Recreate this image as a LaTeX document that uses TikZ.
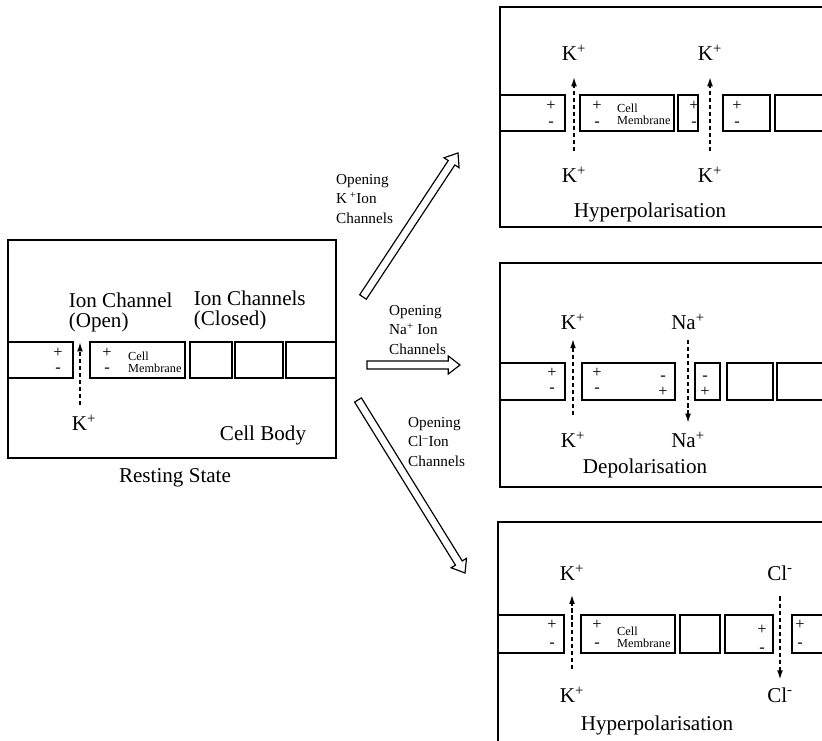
\documentclass[tikz,border=0pt]{standalone}
\usepackage{fontspec}
\setmainfont{Liberation Serif}
\usetikzlibrary{positioning,arrows.meta,calc}

% hollow block arrow between two named points
\newcommand{\hollowarrow}[2]{%
  \draw[bigarrow] let \p1=($(#2)-(#1)$), \n1={atan2(\y1,\x1)}, \n2={veclen(\x1,\y1)} in
    [shift={(#1)}, rotate=\n1]
    (0pt,-3.4pt) -- ({\n2-10pt},-3.4pt) -- ({\n2-10pt},-7.7pt) -- ({\n2+0pt},0pt)
    -- ({\n2-10pt},7.7pt) -- ({\n2-10pt},3.4pt) -- (0pt,3.4pt) -- cycle;}

\begin{document}
\begin{tikzpicture}[x=0.03cm, y=-0.03cm,
    panel/.style={draw, line width=1.4pt},
    seg/.style={draw, line width=1.3pt},
    lab/.style={font=\fontsize{18}{17}\selectfont, inner sep=0.5pt},
    ion/.style={font=\fontsize{18}{17}\selectfont, inner sep=0.5pt},
    chg/.style={font=\fontsize{14}{14}\selectfont, inner sep=0pt,
                text height=7pt, text depth=0pt},
    memb/.style={font=\fontsize{10.5}{10.5}\selectfont, align=left, anchor=west, inner sep=0pt},
    via/.style={font=\fontsize{13}{16.5}\selectfont, align=left, anchor=west, inner sep=0pt},
    ionflow/.style={line width=1.4pt, dash pattern=on 3.5pt off 2.5pt,
                    -{Latex[length=8pt,width=5pt]}},
    bigarrow/.style={draw, line width=1pt, fill=white}
]
    \useasboundingbox (0,0) rectangle (822,741);

    % resting state panel
    \draw[panel] (8,240) rectangle (336,458);
    \foreach \a/\b in {8/73, 90/185, 190/232, 235/283, 286/336}
        \draw[seg] (\a,342) rectangle (\b,378);
    \foreach \x/\y/\s [count=\i] in {58/353/+, 58/368/-, 107/353/+, 107/368/-}
        \node[chg] (rc\i) at (\x,\y) {\s};
    \node[memb] (restMem) at (128,362) {Cell\\Membrane};
    \node[lab, align=left, anchor=west] (openLab) at (68,312) {Ion Channel\\(Open)};
    \node[lab, align=left, anchor=west] (closedLab) at (193,310) {Ion Channels\\(Closed)};
    \node[ion] (restK) at (84,423) {K\textsuperscript{+}};
    \coordinate (restTip) at (80,342);
    \node[lab] (body) at (263,435) {Cell Body};
    \node[lab] (rest) at (175,478) {Resting State};
    \draw[ionflow, shorten <=8pt] (restK.north -| restTip) -- (restTip);

    % potassium: hyperpolarisation
    \draw[panel] (822,7) -| (500,227) -- (822,227);
    \foreach \a/\b in {500/565, 580/674, 678/698, 723/770}
        \draw[seg] (\a,95) rectangle (\b,131);
    \draw[seg] (822,95) -| (775,131) -- (822,131);
    \foreach \x/\y/\s [count=\i] in {551/106/+, 551/122/-, 597/106/+, 597/122/-,
                                     694/106/+, 694/122/-, 737/106/+, 737/122/-}
        \node[chg] (hc\i) at (\x,\y) {\s};
    \node[memb] (hyperMem) at (617,114) {Cell\\Membrane};
    \node[ion] (hkTop1) at (574,53) {K\textsuperscript{+}};
    \node[ion] (hkTop2) at (710,53) {K\textsuperscript{+}};
    \node[ion] (hkBot1) at (574,175) {K\textsuperscript{+}};
    \node[ion] (hkBot2) at (710,175) {K\textsuperscript{+}};
    \node[lab] (hyperA) at (650,212) {Hyperpolarisation};
    \draw[ionflow, shorten <=13pt, shorten >=13pt] (hkBot1) -- (hkTop1);
    \draw[ionflow, shorten <=13pt, shorten >=13pt] (hkBot2) -- (hkTop2);

    % sodium: depolarisation
    \draw[panel] (822,263) -| (500,487) -- (822,487);
    \foreach \a/\b in {500/565, 582/675, 695/720, 727/773}
        \draw[seg] (\a,363) rectangle (\b,400);
    \draw[seg] (822,363) -| (777,400) -- (822,400);
    \foreach \x/\y/\s [count=\i] in {552/373/+, 552/388/-, 597/373/+, 597/388/-,
                                     663/376/-, 663/392/+, 705/376/-, 705/392/+}
        \node[chg] (dc\i) at (\x,\y) {\s};
    \node[ion] (dkTop) at (573,322) {K\textsuperscript{+}};
    \node[ion] (dnaTop) at (688,322) {Na\textsuperscript{+}};
    \node[ion] (dkBot) at (573,440) {K\textsuperscript{+}};
    \node[ion] (dnaBot) at (688,440) {Na\textsuperscript{+}};
    \node[lab] (depol) at (645,468) {Depolarisation};
    \draw[ionflow, shorten <=14pt, shorten >=7pt] (dkBot) -- (dkTop);
    \draw[ionflow, shorten <=8pt, shorten >=7pt] (dnaTop) -- (dnaBot);

    % chloride: hyperpolarisation
    \draw[panel] (822,522) -| (498,741);
    \foreach \a/\b in {498/564, 581/675, 680/720, 725/773}
        \draw[seg] (\a,615) rectangle (\b,653);
    \draw[seg] (822,615) -| (792,653) -- (822,653);
    \foreach \x/\y/\s [count=\i] in {552/625/+, 552/643/-, 597/625/+, 597/643/-,
                                     762/630/+, 762/648/-, 800/625/+, 800/643/-}
        \node[chg] (cc\i) at (\x,\y) {\s};
    \node[memb] (chlorMem) at (617,637) {Cell\\Membrane};
    \node[ion] (ckTop) at (572,573) {K\textsuperscript{+}};
    \node[ion] (cclTop) at (780,573) {Cl\textsuperscript{-}};
    \node[ion] (ckBot) at (572,695) {K\textsuperscript{+}};
    \node[ion] (cclBot) at (780,695) {Cl\textsuperscript{-}};
    \node[lab] (hyperB) at (657,725) {Hyperpolarisation};
    \draw[ionflow, shorten <=15pt, shorten >=11pt] (ckBot) -- (ckTop);
    \draw[ionflow, shorten <=13pt, shorten >=6pt] (cclTop) -- (cclBot);

    % transitions
    \coordinate (kTail) at (363,297);   \coordinate (kHead) at (458,153);
    \coordinate (naTail) at (367,365);  \coordinate (naHead) at (460,365);
    \coordinate (clTail) at (358,400);  \coordinate (clHead) at (465,573);
    \hollowarrow{kTail}{kHead}
    \hollowarrow{naTail}{naHead}
    \hollowarrow{clTail}{clHead}
    \node[via] (viaK) at (336,199) {Opening\\K\,\textsuperscript{+}Ion\\Channels};
    \node[via] (viaNa) at (389,330) {Opening\\Na\textsuperscript{+} Ion\\Channels};
    \node[via] (viaCl) at (408,442) {Opening\\Cl\textsuperscript{--}Ion\\Channels};
\end{tikzpicture}
\end{document}
